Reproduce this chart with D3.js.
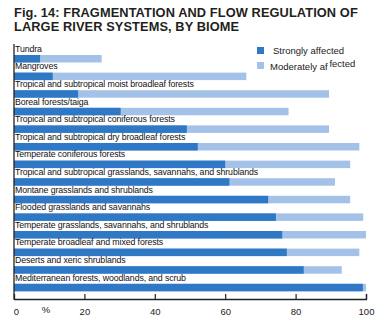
<!DOCTYPE html>
<html><head><meta charset="utf-8">
<script src="https://cdn.jsdelivr.net/npm/d3@7"></script>
<style>
body{margin:0;background:#fff;}
svg{display:block;font-family:"Liberation Sans",Arial,sans-serif;}
</style></head>
<body><svg id="c" width="384" height="324"></svg>
<script>
const categories = [
 "Tundra","Mangroves","Tropical and subtropical moist broadleaf forests","Boreal forests/taiga",
 "Tropical and subtropical coniferous forests","Tropical and subtropical dry broadleaf forests",
 "Temperate coniferous forests","Tropical and subtropical grasslands, savannahs, and shrublands",
 "Montane grasslands and shrublands","Flooded grasslands and savannahs",
 "Temperate grasslands, savannahs, and shrublands","Temperate broadleaf and mixed forests",
 "Deserts and xeric shrublands","Mediterranean forests, woodlands, and scrub"];
const strongly = [7.4,11,18.2,30.3,49.1,52.2,60,61.2,72.2,74.4,76.2,77.5,82.3,99.1];
const moderately = [17.5,55,71.3,47.7,40.4,45.9,35.5,30,23.3,24.8,23.8,20.6,10.8,0.9];
const ticks = [0,20,40,60,80,100];
const seriesNames = ["Strongly affected","Moderately affected"];
const colors = ["#2e78c6","#a4c2e8"];

const svg = d3.select("#c");
const x = d3.scaleLinear().domain([0,100]).range([14,366]);
const y = d3.scaleBand().domain(categories).range([44,44+14*17.6]);

// title
const t = svg.append("text").attr("x",14).attr("fill","#231f20")
  .style("font-family","'Liberation Sans',Arial,sans-serif").style("font-weight","bold")
  .style("font-size","12.8px").style("letter-spacing","0.1px");
t.append("tspan").attr("x",14).attr("y",17).text("Fig. 14: FRAGMENTATION AND FLOW REGULATION OF");
t.append("tspan").attr("x",14).attr("y",31).text("LARGE RIVER SYSTEMS, BY BIOME");

const rows = svg.append("g").selectAll("g").data(categories).join("g");
rows.append("rect").attr("x",x(0)).attr("y",d=>y(d)+11).attr("height",7.5)
  .attr("width",(d,i)=>x(strongly[i]+moderately[i])-x(0)).attr("fill",colors[1]);
rows.append("rect").attr("x",x(0)).attr("y",d=>y(d)+11).attr("height",7.5)
  .attr("width",(d,i)=>x(strongly[i])-x(0)).attr("fill",colors[0]);
rows.append("text").attr("x",15).attr("y",d=>y(d)+7.8)
  .style("font-size","8.8px").style("letter-spacing","-0.12px").attr("fill","#111").text(d=>d);

// left axis line
svg.append("line").attr("x1",14).attr("x2",14).attr("y1",44).attr("y2",299.5).attr("stroke","#222").attr("stroke-width",1.3);

// bottom axis
const axis = d3.axisBottom(x).tickValues(ticks).tickSize(-5).tickPadding(9).tickFormat(d3.format("d"));
const ag = svg.append("g").attr("transform","translate(0,299)").call(axis);
ag.select(".domain").attr("stroke","#222").attr("stroke-width",1.3);
ag.selectAll(".tick line").attr("stroke","#222").attr("stroke-width",1.2);
ag.selectAll(".tick").filter(d=>d===0).select("line").remove();
ag.selectAll(".tick text").style("font-size","9.5px").style("font-family","'Liberation Sans',Arial,sans-serif").attr("fill","#222");
ag.selectAll(".tick").filter(d=>d===0).select("text").attr("x",2);
svg.append("text").attr("x",46).attr("y",312.5).attr("text-anchor","middle").style("font-size","9.5px").attr("fill","#222").text("%");

// legend
const lg = svg.append("g");
lg.append("rect").attr("x",257).attr("y",47).attr("width",7).attr("height",7).attr("fill",colors[0]);
lg.append("text").attr("x",273).attr("y",54).style("font-size","9.5px").attr("fill","#222").text(seriesNames[0]);
lg.append("rect").attr("x",257).attr("y",62).attr("width",7).attr("height",7).attr("fill",colors[1]);
const l2 = lg.append("text").attr("x",270).attr("y",70).style("font-size","9.5px").attr("fill","#222");
l2.append("tspan").text("Moderately af");
l2.append("tspan").attr("dx",2).attr("dy",-3).text("fected");
</script></body></html>
